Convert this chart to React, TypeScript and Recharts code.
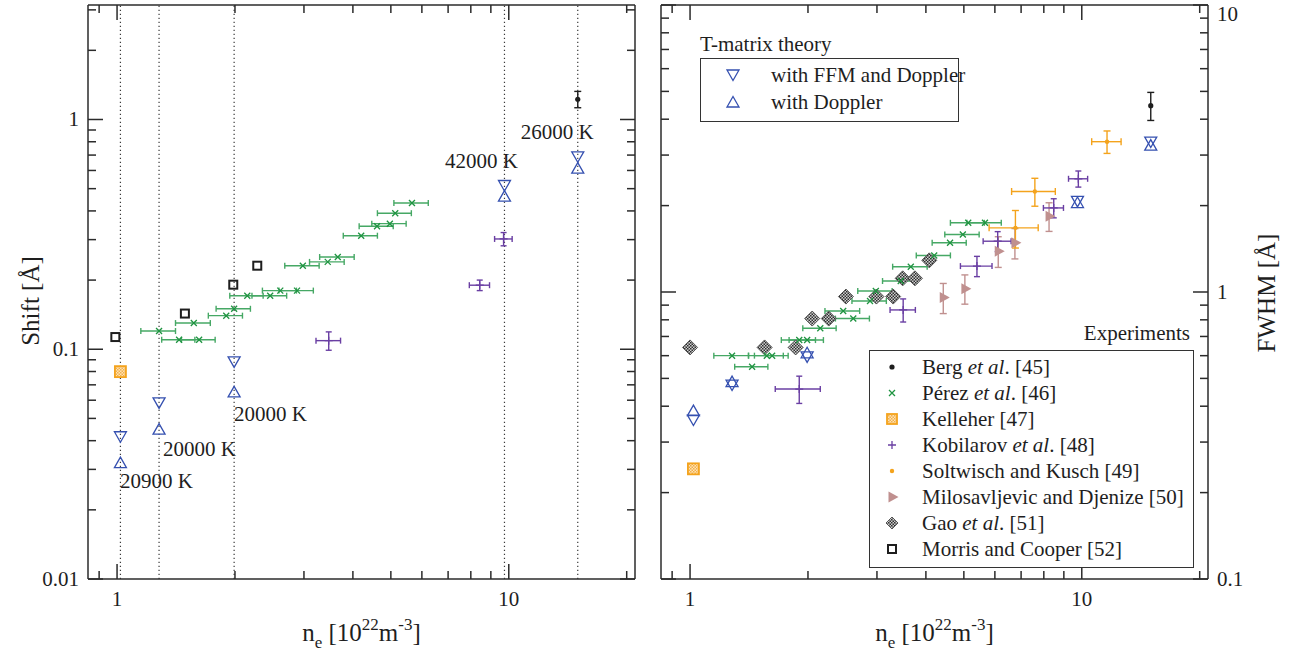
import React from 'react';
import { ScatterChart, Scatter, XAxis, YAxis, ErrorBar, ReferenceLine, Legend } from 'recharts';

const SERIF = '"Liberation Serif", "Times New Roman", Times, serif';
const INK = '#1e1e1e';
const FRAME = '#2b2b2b';
const BLUE = '#3550b0';
const GREEN = '#1f9441';
const GREEN_BAR = '#46a865';
const ORANGE = '#f4a31c';
const PURPLE = '#6a3fa3';
const MAUVE = '#c0908f';

// axes
const NE_DOMAIN = [0.843, 21];
const SHIFT_DOMAIN = [0.01, 3.15];
const FWHM_DOMAIN = [0.1, 10];
const NE_TICKS = [0.9, 1, 2, 3, 4, 5, 6, 7, 8, 9, 10, 20];
const NE_LABELS = [1, 10];
const SHIFT_TICKS = [0.01, 0.02, 0.03, 0.04, 0.05, 0.06, 0.07, 0.08, 0.09, 0.1, 0.2, 0.3, 0.4, 0.5, 0.6, 0.7, 0.8, 0.9, 1, 2, 3];
const SHIFT_LABELS = [0.01, 0.1, 1];
const FWHM_TICKS = [0.1, 0.2, 0.3, 0.4, 0.5, 0.6, 0.7, 0.8, 0.9, 1, 2, 3, 4, 5, 6, 7, 8, 9, 10];
const FWHM_LABELS = [0.1, 1, 10];

// T-matrix theory (dotted guides in the shift panel sit at the same densities)
const THEORY_NE = [1.02, 1.28, 1.99, 9.75, 15.0];
const SHIFT_FFM = [0.0416, 0.0584, 0.0881, 0.516, 0.688];
const SHIFT_DOPPLER = [0.0321, 0.0449, 0.0652, 0.464, 0.614];
const FWHM_FFM = [0.358, 0.474, 0.594, 2.07, 3.33];
const FWHM_DOPPLER = [0.386, 0.487, 0.614, 2.05, 3.25];

// plasma temperature notes
const TEMP_TEXT = ['20900 K', '20000 K', '20000 K', '42000 K', '26000 K'];
const TEMP_NE = [1.018, 1.31, 1.99, 6.87, 10.73];
const TEMP_SHIFT = [0.0266, 0.0367, 0.0525, 0.659, 0.881];

// experiments
const BERG_NE = [15.0];
const BERG_SHIFT = [1.225];
const BERG_SHIFT_ERR = [0.1];
const BERG_FWHM = [4.46];
const BERG_FWHM_ERR = [0.5];

const PEREZ_NE = [1.28, 1.44, 1.57, 1.62, 1.9, 1.99, 2.15, 2.46, 2.61, 2.88, 2.98, 3.45, 3.66, 4.2, 4.61, 4.97, 5.13, 5.66];
const PEREZ_NE_ERR = [0.13, 0.14, 0.16, 0.16, 0.19, 0.2, 0.21, 0.25, 0.26, 0.29, 0.3, 0.35, 0.37, 0.42, 0.46, 0.5, 0.51, 0.57];
const PEREZ_SHIFT = [0.12, 0.11, 0.13, 0.11, 0.14, 0.15, 0.171, 0.171, 0.18, 0.18, 0.231, 0.24, 0.252, 0.312, 0.343, 0.352, 0.391, 0.433];
const PEREZ_FWHM = [0.6, 0.549, 0.6, 0.6, 0.68, 0.68, 0.748, 0.859, 0.808, 0.93, 1.008, 1.092, 1.225, 1.341, 1.484, 1.586, 1.742, 1.742];

const KELLEHER_NE = [1.02];
const KELLEHER_SHIFT = [0.0799];
const KELLEHER_FWHM = [0.242];

const KOB_SHIFT_NE = [3.47, 8.43, 9.7];
const KOB_SHIFT_NE_ERR = [0.25, 0.5, 0.5];
const KOB_SHIFT = [0.109, 0.19, 0.302];
const KOB_SHIFT_ERR = [0.01, 0.01, 0.02];
const KOB_FWHM_NE = [1.9, 3.5, 5.4, 6.1, 8.48, 9.8];
const KOB_FWHM_NE_ERR = [0.25, 0.26, 0.5, 0.5, 0.5, 0.55];
const KOB_FWHM = [0.459, 0.866, 1.231, 1.503, 1.963, 2.48];
const KOB_FWHM_ERR = [0.05, 0.08, 0.1, 0.12, 0.15, 0.16];

const SOLT_NE = [6.77, 7.59, 11.6];
const SOLT_NE_ERR = [0.97, 0.97, 1.0];
const SOLT_FWHM = [1.673, 2.24, 3.34];
const SOLT_FWHM_ERR = [0.25, 0.25, 0.3];

const MILO_NE = [4.43, 5.03, 6.12, 6.75, 8.25];
const MILO_FWHM = [0.956, 1.027, 1.388, 1.484, 1.836];
const MILO_FWHM_ERR = [0.115, 0.12, 0.17, 0.18, 0.21];

const GAO_NE = [1.0, 1.55, 1.86, 2.05, 2.26, 2.5, 2.99, 3.3, 3.49, 3.75, 4.08];
const GAO_FWHM = [0.641, 0.641, 0.641, 0.808, 0.808, 0.964, 0.964, 0.964, 1.116, 1.116, 1.289];

const MORRIS_NE = [0.99, 1.49, 1.98, 2.28];
const MORRIS_SHIFT = [0.113, 0.143, 0.191, 0.231];

// legends
const THEORY_TITLE = 'T-matrix theory';
const THEORY_ITEMS = [
  { kind: 'ffm', text: 'with FFM and Doppler' },
  { kind: 'dop', text: 'with Doppler' },
];
const EXP_TITLE = 'Experiments';
const EXP_ITEMS = [
  { kind: 'berg', pre: 'Berg ', it: 'et al', post: '. [45]' },
  { kind: 'perez', pre: 'Pérez ', it: 'et al', post: '. [46]' },
  { kind: 'kelleher', pre: 'Kelleher [47]', it: '', post: '' },
  { kind: 'kob', pre: 'Kobilarov ', it: 'et al', post: '. [48]' },
  { kind: 'solt', pre: 'Soltwisch and Kusch [49]', it: '', post: '' },
  { kind: 'milo', pre: 'Milosavljevic and Djenize [50]', it: '', post: '' },
  { kind: 'gao', pre: 'Gao ', it: 'et al', post: '. [51]' },
  { kind: 'morris', pre: 'Morris and Cooper [52]', it: '', post: '' },
];

const rows = (xs: number[], ys: number[], xe?: number[], ye?: number[]) =>
  xs.map((x, i) => ({ x, y: ys[i], xe: xe ? xe[i] : 0, ye: ye ? ye[i] : 0 }));

// marker shapes
const SHAPES: Record<string, (cx: number, cy: number, s?: number) => React.ReactElement> = {
  ffm: (cx, cy) => (
    <polygon points={`${cx - 6},${cy - 5} ${cx + 6},${cy - 5} ${cx},${cy + 5.5}`} fill="none" stroke={BLUE} strokeWidth={1.3} />
  ),
  dop: (cx, cy) => (
    <polygon points={`${cx},${cy - 5.5} ${cx - 6},${cy + 5} ${cx + 6},${cy + 5}`} fill="none" stroke={BLUE} strokeWidth={1.3} />
  ),
  berg: (cx, cy) => <circle cx={cx} cy={cy} r={2.6} fill={INK} />,
  perez: (cx, cy) => (
    <path d={`M${cx - 3},${cy - 3}L${cx + 3},${cy + 3}M${cx - 3},${cy + 3}L${cx + 3},${cy - 3}`} stroke={GREEN} strokeWidth={1.3} />
  ),
  kelleher: (cx, cy, s = 5.5) => (
    <rect x={cx - s} y={cy - s} width={2 * s} height={2 * s} fill="url(#kelleherFill)" stroke={ORANGE} strokeWidth={1.8} />
  ),
  kob: (cx, cy) => (
    <path d={`M${cx - 4},${cy}L${cx + 4},${cy}M${cx},${cy - 4}L${cx},${cy + 4}`} stroke={PURPLE} strokeWidth={1.3} />
  ),
  solt: (cx, cy) => <circle cx={cx} cy={cy} r={2.2} fill={ORANGE} />,
  milo: (cx, cy) => <polygon points={`${cx - 3.5},${cy - 5.5} ${cx - 3.5},${cy + 5.5} ${cx + 6.5},${cy}`} fill={MAUVE} />,
  gao: (cx, cy, s = 7.5) => (
    <polygon points={`${cx},${cy - s} ${cx + s},${cy} ${cx},${cy + s} ${cx - s},${cy}`} fill="url(#gaoFill)" stroke="#555" strokeWidth={1} />
  ),
  morris: (cx, cy) => <rect x={cx - 4} y={cy - 4} width={8} height={8} fill="none" stroke={INK} strokeWidth={2} />,
};

const shape = (kind: string) => (p: any) => SHAPES[kind](p.cx, p.cy);

const TempNote = (p: any) => (
  <text x={p.cx} y={p.cy + 7} fontFamily={SERIF} fontSize={21} fill={INK}>
    {p.payload.label}
  </text>
);

// inward frame ticks, long at labelled decades
const frameTick = (side: 'bottom' | 'top' | 'left' | 'right', majors: number[], showLabel: boolean) => (props: any) => {
  const { x, y, payload } = props;
  const v = payload.value;
  const major = majors.includes(v);
  const len = major ? 15 : 8;
  let x2 = x;
  let y2 = y;
  let label: React.ReactElement | null = null;
  const txt = { fontFamily: SERIF, fontSize: 21, fill: INK } as const;
  // keep the top label inside the page
  const base = Math.max(y + 7, 21);
  if (side === 'bottom') {
    y2 = y - len;
    if (showLabel && major) label = <text x={x} y={y + 27} textAnchor="middle" {...txt}>{String(v)}</text>;
  } else if (side === 'top') {
    y2 = y + len;
  } else if (side === 'left') {
    x2 = x + len;
    if (showLabel && major) label = <text x={x - 9} y={base} textAnchor="end" {...txt}>{String(v)}</text>;
  } else {
    x2 = x - len;
    if (showLabel && major) label = <text x={x + 9} y={base} textAnchor="start" {...txt}>{String(v)}</text>;
  }
  return (
    <g>
      <line x1={x} y1={y} x2={x2} y2={y2} stroke={FRAME} strokeWidth={1.5} />
      {label}
    </g>
  );
};

const AXIS_LINE = { stroke: FRAME, strokeWidth: 1.5 };

const NeTitle = (props: any) => {
  const vb = props.viewBox;
  return (
    <text x={vb.x + vb.width / 2} y={vb.y + 62} textAnchor="middle" fontFamily={SERIF} fontSize={25} fill={INK}>
      n<tspan fontSize={17} dy={7}>e</tspan>
      <tspan dy={-7}> [10</tspan>
      <tspan fontSize={17} dy={-11}>22</tspan>
      <tspan dy={11}>m</tspan>
      <tspan fontSize={17} dy={-11}>-3</tspan>
      <tspan dy={11}>]</tspan>
    </text>
  );
};

const yTitle = (text: string, dx: number, dy: number) => (props: any) => {
  const vb = props.viewBox;
  const cx = vb.x + dx;
  const cy = vb.y + vb.height / 2 + dy;
  return (
    <text transform={`translate(${cx},${cy}) rotate(-90)`} textAnchor="middle" fontFamily={SERIF} fontSize={25} fill={INK}>
      {text}
    </text>
  );
};

const axisCommon = { type: 'number' as const, scale: 'log' as const, allowDataOverflow: true, interval: 0 as const, tickSize: 0, tickMargin: 0, tickLine: false, axisLine: AXIS_LINE };

function Patterns() {
  return (
    <svg width={0} height={0} style={{ position: 'absolute' }}>
      <defs>
        <pattern id="gaoFill" width={3} height={3} patternUnits="userSpaceOnUse">
          <rect width={3} height={3} fill="#cfcfcf" />
          <rect width={1.5} height={1.5} fill="#2e2e2e" />
          <rect x={1.5} y={1.5} width={1.5} height={1.5} fill="#2e2e2e" />
        </pattern>
        <pattern id="kelleherFill" width={3} height={3} patternUnits="userSpaceOnUse">
          <rect width={3} height={3} fill="#fde3b6" />
          <rect width={1.5} height={1.5} fill="#f3b04a" />
          <rect x={1.5} y={1.5} width={1.5} height={1.5} fill="#f3b04a" />
        </pattern>
      </defs>
    </svg>
  );
}

function Sym({ kind }: { kind: string }) {
  const small: Record<string, React.ReactElement> = {
    kelleher: SHAPES.kelleher(10, 10, 5),
    gao: SHAPES.gao(10, 10, 6),
  };
  return (
    <svg width={20} height={20} style={{ position: 'absolute', left: -10, top: -10, overflow: 'visible' }}>
      {small[kind] || SHAPES[kind](10, 10)}
    </svg>
  );
}

const textStyle: React.CSSProperties = { position: 'absolute', fontFamily: SERIF, fontSize: 21, lineHeight: '24px', color: INK, whiteSpace: 'nowrap' };
const boxStyle: React.CSSProperties = { position: 'absolute', border: '1.5px solid #333', background: '#fff', boxSizing: 'border-box' };

function LegendBoxes() {
  return (
    <div style={{ position: 'relative', width: 633, height: 655, pointerEvents: 'none' }}>
      <div style={{ ...textStyle, left: 40, top: 32 }}>{THEORY_TITLE}</div>
      <div style={{ ...boxStyle, left: 40, top: 58, width: 259, height: 64 }}>
        {THEORY_ITEMS.map((it, i) => (
          <React.Fragment key={it.kind}>
            <div style={{ position: 'absolute', left: 32, top: 16 + i * 27 }}>
              <Sym kind={it.kind} />
            </div>
            <div style={{ ...textStyle, left: 70, top: 4 + i * 27 }}>{it.text}</div>
          </React.Fragment>
        ))}
      </div>
      <div style={{ ...textStyle, left: 0, width: 530, textAlign: 'right', top: 321 }}>{EXP_TITLE}</div>
      <div style={{ ...boxStyle, left: 209, top: 350, width: 325, height: 218 }}>
        {EXP_ITEMS.map((it, i) => (
          <React.Fragment key={it.kind}>
            <div style={{ position: 'absolute', left: 22, top: 16 + i * 25.95 }}>
              <Sym kind={it.kind} />
            </div>
            <div style={{ ...textStyle, left: 52, top: 4 + i * 25.95 }}>
              {it.pre}
              {it.it ? <i>{it.it}</i> : null}
              {it.post}
            </div>
          </React.Fragment>
        ))}
      </div>
    </div>
  );
}

function ShiftPanel() {
  return (
    <ScatterChart width={660} height={655} margin={{ top: 4, right: 24, bottom: 16, left: 28 }}>
      <XAxis xAxisId="b" dataKey="x" orientation="bottom" height={60} domain={NE_DOMAIN} ticks={NE_TICKS} tick={frameTick('bottom', NE_LABELS, true)} label={NeTitle} {...axisCommon} />
      <XAxis xAxisId="t" dataKey="x" orientation="top" height={1} domain={NE_DOMAIN} ticks={NE_TICKS} tick={frameTick('top', NE_LABELS, false)} {...axisCommon} />
      <YAxis yAxisId="l" dataKey="y" orientation="left" width={60} domain={SHIFT_DOMAIN} ticks={SHIFT_TICKS} tick={frameTick('left', SHIFT_LABELS, true)} label={yTitle('Shift [Å]', 11, 9)} {...axisCommon} />
      <YAxis yAxisId="r" dataKey="y" orientation="right" width={1} domain={SHIFT_DOMAIN} ticks={SHIFT_TICKS} tick={frameTick('right', SHIFT_LABELS, false)} {...axisCommon} />
      {THEORY_NE.map((v) => (
        <ReferenceLine key={v} x={v} xAxisId="b" yAxisId="l" stroke="#3a3a3a" strokeWidth={1.2} strokeDasharray="1.2 2.8" />
      ))}
      <Scatter xAxisId="t" yAxisId="r" data={[]} isAnimationActive={false} />
      <Scatter xAxisId="b" yAxisId="l" data={rows(PEREZ_NE, PEREZ_SHIFT, PEREZ_NE_ERR)} shape={shape('perez')} isAnimationActive={false}>
        <ErrorBar dataKey="xe" direction="x" stroke={GREEN_BAR} strokeWidth={1.4} width={3} isAnimationActive={false} />
      </Scatter>
      <Scatter xAxisId="b" yAxisId="l" data={rows(MORRIS_NE, MORRIS_SHIFT)} shape={shape('morris')} isAnimationActive={false} />
      <Scatter xAxisId="b" yAxisId="l" data={rows(KELLEHER_NE, KELLEHER_SHIFT)} shape={shape('kelleher')} isAnimationActive={false} />
      <Scatter xAxisId="b" yAxisId="l" data={rows(KOB_SHIFT_NE, KOB_SHIFT, KOB_SHIFT_NE_ERR, KOB_SHIFT_ERR)} shape={shape('kob')} isAnimationActive={false}>
        <ErrorBar dataKey="xe" direction="x" stroke={PURPLE} strokeWidth={1.4} width={3} isAnimationActive={false} />
        <ErrorBar dataKey="ye" direction="y" stroke={PURPLE} strokeWidth={1.4} width={3} isAnimationActive={false} />
      </Scatter>
      <Scatter xAxisId="b" yAxisId="l" data={rows(BERG_NE, BERG_SHIFT, undefined, BERG_SHIFT_ERR)} shape={shape('berg')} isAnimationActive={false}>
        <ErrorBar dataKey="ye" direction="y" stroke={INK} strokeWidth={1.4} width={3.5} isAnimationActive={false} />
      </Scatter>
      <Scatter xAxisId="b" yAxisId="l" data={rows(THEORY_NE, SHIFT_FFM)} shape={shape('ffm')} isAnimationActive={false} />
      <Scatter xAxisId="b" yAxisId="l" data={rows(THEORY_NE, SHIFT_DOPPLER)} shape={shape('dop')} isAnimationActive={false} />
      <Scatter xAxisId="b" yAxisId="l" data={TEMP_NE.map((x, i) => ({ x, y: TEMP_SHIFT[i], label: TEMP_TEXT[i] }))} shape={TempNote} isAnimationActive={false} />
    </ScatterChart>
  );
}

function FwhmPanel() {
  return (
    <ScatterChart width={633} height={655} margin={{ top: 4, right: 25, bottom: 16, left: 0 }}>
      <XAxis xAxisId="b" dataKey="x" orientation="bottom" height={60} domain={NE_DOMAIN} ticks={NE_TICKS} tick={frameTick('bottom', NE_LABELS, true)} label={NeTitle} {...axisCommon} />
      <XAxis xAxisId="t" dataKey="x" orientation="top" height={1} domain={NE_DOMAIN} ticks={NE_TICKS} tick={frameTick('top', NE_LABELS, false)} {...axisCommon} />
      <YAxis yAxisId="l" dataKey="y" orientation="left" width={1} domain={FWHM_DOMAIN} ticks={FWHM_TICKS} tick={frameTick('left', FWHM_LABELS, false)} {...axisCommon} />
      <YAxis yAxisId="r" dataKey="y" orientation="right" width={60} domain={FWHM_DOMAIN} ticks={FWHM_TICKS} tick={frameTick('right', FWHM_LABELS, true)} label={yTitle('FWHM [Å]', 67, 1)} {...axisCommon} />
      <Legend layout="vertical" align="center" verticalAlign="middle" content={() => <LegendBoxes />} wrapperStyle={{ position: 'absolute', left: 0, top: 0, width: 633, height: 655, pointerEvents: 'none' }} />
      <Scatter xAxisId="t" yAxisId="r" data={[]} isAnimationActive={false} legendType="none" />
      <Scatter xAxisId="b" yAxisId="l" data={rows(GAO_NE, GAO_FWHM)} shape={shape('gao')} isAnimationActive={false} />
      <Scatter xAxisId="b" yAxisId="l" data={rows(PEREZ_NE, PEREZ_FWHM, PEREZ_NE_ERR)} shape={shape('perez')} isAnimationActive={false}>
        <ErrorBar dataKey="xe" direction="x" stroke={GREEN_BAR} strokeWidth={1.4} width={3} isAnimationActive={false} />
      </Scatter>
      <Scatter xAxisId="b" yAxisId="l" data={rows(KELLEHER_NE, KELLEHER_FWHM)} shape={shape('kelleher')} isAnimationActive={false} />
      <Scatter xAxisId="b" yAxisId="l" data={rows(MILO_NE, MILO_FWHM, undefined, MILO_FWHM_ERR)} shape={shape('milo')} isAnimationActive={false}>
        <ErrorBar dataKey="ye" direction="y" stroke={MAUVE} strokeWidth={1.4} width={3.5} isAnimationActive={false} />
      </Scatter>
      <Scatter xAxisId="b" yAxisId="l" data={rows(SOLT_NE, SOLT_FWHM, SOLT_NE_ERR, SOLT_FWHM_ERR)} shape={shape('solt')} isAnimationActive={false}>
        <ErrorBar dataKey="xe" direction="x" stroke={ORANGE} strokeWidth={1.4} width={3.5} isAnimationActive={false} />
        <ErrorBar dataKey="ye" direction="y" stroke={ORANGE} strokeWidth={1.4} width={3.5} isAnimationActive={false} />
      </Scatter>
      <Scatter xAxisId="b" yAxisId="l" data={rows(KOB_FWHM_NE, KOB_FWHM, KOB_FWHM_NE_ERR, KOB_FWHM_ERR)} shape={shape('kob')} isAnimationActive={false}>
        <ErrorBar dataKey="xe" direction="x" stroke={PURPLE} strokeWidth={1.4} width={3} isAnimationActive={false} />
        <ErrorBar dataKey="ye" direction="y" stroke={PURPLE} strokeWidth={1.4} width={3} isAnimationActive={false} />
      </Scatter>
      <Scatter xAxisId="b" yAxisId="l" data={rows(BERG_NE, BERG_FWHM, undefined, BERG_FWHM_ERR)} shape={shape('berg')} isAnimationActive={false}>
        <ErrorBar dataKey="ye" direction="y" stroke={INK} strokeWidth={1.4} width={3.5} isAnimationActive={false} />
      </Scatter>
      <Scatter xAxisId="b" yAxisId="l" data={rows(THEORY_NE, FWHM_FFM)} shape={shape('ffm')} isAnimationActive={false} />
      <Scatter xAxisId="b" yAxisId="l" data={rows(THEORY_NE, FWHM_DOPPLER)} shape={shape('dop')} isAnimationActive={false} />
    </ScatterChart>
  );
}

export default function App() {
  return (
    <div style={{ position: 'absolute', left: 0, top: 0, width: 1293, height: 655, background: '#fff' }}>
      <Patterns />
      <div style={{ position: 'absolute', left: 0, top: 0 }}>
        <ShiftPanel />
      </div>
      <div style={{ position: 'absolute', left: 660, top: 0 }}>
        <FwhmPanel />
      </div>
    </div>
  );
}
